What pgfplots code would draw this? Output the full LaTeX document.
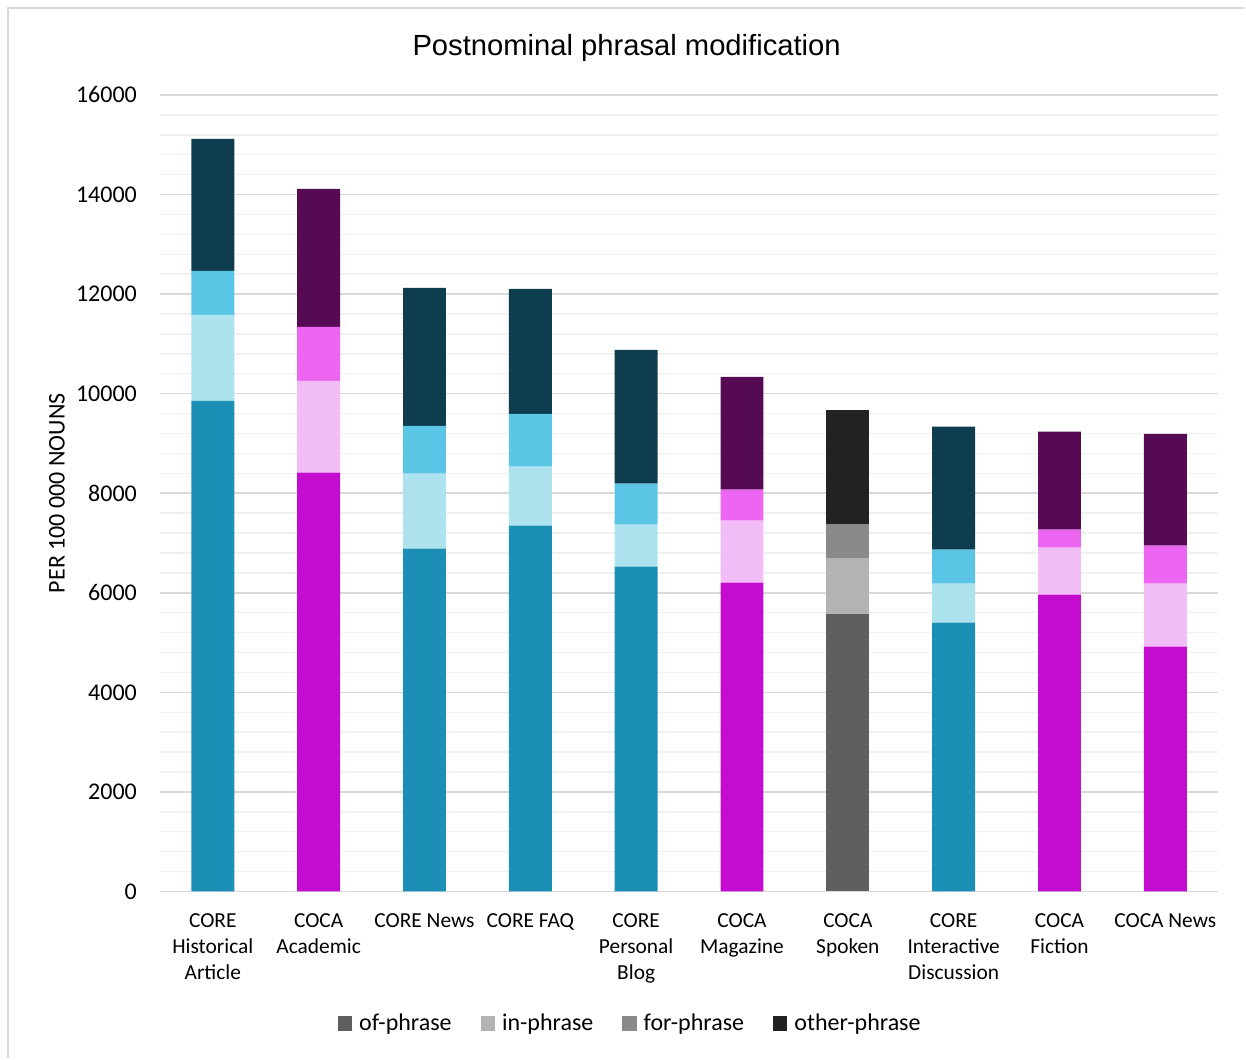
\documentclass[border=0pt]{standalone}
\usepackage{fontspec}
\setmainfont{Carlito}
\newfontfamily\titlefont{Liberation Sans}
\usepackage{pgfplots}
\pgfplotsset{compat=1.18}

% CORE palette
\definecolor{coreOf}{HTML}{1B8FB5}
\definecolor{coreIn}{HTML}{ADE3EE}
\definecolor{coreFor}{HTML}{5BC5E5}
\definecolor{coreOther}{HTML}{0D3D4F}
% COCA palette
\definecolor{cocaOf}{HTML}{C40BD0}
\definecolor{cocaIn}{HTML}{F2BDF6}
\definecolor{cocaFor}{HTML}{EC66F2}
\definecolor{cocaOther}{HTML}{560A54}
% COCA Spoken palette
\definecolor{spOf}{HTML}{5F5F5F}
\definecolor{spIn}{HTML}{B3B3B3}
\definecolor{spFor}{HTML}{8A8A8A}
\definecolor{spOther}{HTML}{222222}
\definecolor{gridMajor}{HTML}{D9D9D9}
\definecolor{gridMinor}{HTML}{F0F0F0}
\definecolor{frameGray}{HTML}{D9D9D9}

\begin{document}
\begin{tikzpicture}[x=0.5pt,y=0.5pt]
\begin{axis}[
  at={(0,0)}, anchor=south west,
  scale only axis,
  width=529.5pt, height=398.5pt,
  ybar stacked,
  bar width=21.5pt,
  xmin=-0.5, xmax=9.5,
  ymin=0, ymax=16000,
  xtick={0,...,9},
  xticklabels={
    {CORE\\Historical\\Article},
    {COCA\\Academic},
    {CORE News},
    {CORE FAQ},
    {CORE\\Personal\\Blog},
    {COCA\\Magazine},
    {COCA\\Spoken},
    {CORE\\Interactive\\Discussion},
    {COCA\\Fiction},
    {COCA News}},
  xticklabel style={align=center, font=\fontsize{10.7}{13}\selectfont, anchor=north, yshift=-7.5pt},
  ytick={0,2000,...,16000},
  minor ytick={400,800,...,15600},
  yticklabel style={font=\fontsize{12}{14}\selectfont, xshift=-8pt},
  /pgf/number format/assume math mode=true,
  scaled y ticks=false,
  yticklabel={\pgfmathprintnumber[fixed,1000 sep={}]{\tick}},
  major tick length=0pt, minor tick length=0pt,
  ymajorgrids, yminorgrids,
  major grid style={gridMajor, line width=0.75pt},
  minor grid style={gridMinor, line width=0.75pt},
  axis line style={draw=none},
  ylabel={PER 100 000 NOUNS},
  ylabel style={at={(axis description cs:-0.0973,0.5)}, anchor=center, font=\fontsize{12}{14}\selectfont},
  every axis title shift=0pt,
  title={\titlefont Postnominal phrasal modification},
  title style={at={(axis description cs:0.441,1.059)}, anchor=center, font=\fontsize{14.6}{16}\selectfont},
  legend style={at={(axis description cs:0.4448,-0.1656)}, anchor=center, draw=none,
    font=\fontsize{12}{14}\selectfont, column sep=2pt,
    nodes={inner xsep=1.5pt},
    /tikz/every even column/.append style={column sep=13pt}},
  legend columns=4,
  legend image code/.code={\fill[#1] (0pt,-3.6pt) rectangle (7.2pt,3.6pt);},
  every axis plot/.append style={draw=none},
]
% of-phrase
\addplot[fill=coreOf, forget plot] coordinates {(0,9857) (1,0) (2,6886) (3,7347) (4,6524) (5,0) (6,0) (7,5400) (8,0) (9,0)};
\addplot[fill=cocaOf, forget plot] coordinates {(0,0) (1,8411) (2,0) (3,0) (4,0) (5,6203) (6,0) (7,0) (8,5962) (9,4918)};
\addplot[fill=spOf] coordinates {(0,0) (1,0) (2,0) (3,0) (4,0) (5,0) (6,5581) (7,0) (8,0) (9,0)};
\addlegendentry{of-phrase}
% in-phrase
\addplot[fill=coreIn, forget plot] coordinates {(0,1726) (1,0) (2,1505) (3,1185) (4,844) (5,0) (6,0) (7,783) (8,0) (9,0)};
\addplot[fill=cocaIn, forget plot] coordinates {(0,0) (1,1847) (2,0) (3,0) (4,0) (5,1245) (6,0) (7,0) (8,944) (9,1265)};
\addplot[fill=spIn] coordinates {(0,0) (1,0) (2,0) (3,0) (4,0) (5,0) (6,1124) (7,0) (8,0) (9,0)};
\addlegendentry{in-phrase}
% for-phrase
\addplot[fill=coreFor, forget plot] coordinates {(0,884) (1,0) (2,964) (3,1064) (4,823) (5,0) (6,0) (7,683) (8,0) (9,0)};
\addplot[fill=cocaFor, forget plot] coordinates {(0,0) (1,1084) (2,0) (3,0) (4,0) (5,622) (6,0) (7,0) (8,361) (9,763)};
\addplot[fill=spFor] coordinates {(0,0) (1,0) (2,0) (3,0) (4,0) (5,0) (6,683) (7,0) (8,0) (9,0)};
\addlegendentry{for-phrase}
% other-phrase
\addplot[fill=coreOther, forget plot] coordinates {(0,2649) (1,0) (2,2770) (3,2509) (4,2690) (5,0) (6,0) (7,2469) (8,0) (9,0)};
\addplot[fill=cocaOther, forget plot] coordinates {(0,0) (1,2771) (2,0) (3,0) (4,0) (5,2269) (6,0) (7,0) (8,1968) (9,2248)};
\addplot[fill=spOther] coordinates {(0,0) (1,0) (2,0) (3,0) (4,0) (5,0) (6,2288) (7,0) (8,0) (9,0)};
\addlegendentry{other-phrase}
\end{axis}
% chart frame (top and left edges)
\draw[frameGray, line width=0.75pt] (-152,-167) -- (-152,884) -- (1086,884);
\useasboundingbox (-160,-167) rectangle (1086,892);
\end{tikzpicture}
\end{document}
